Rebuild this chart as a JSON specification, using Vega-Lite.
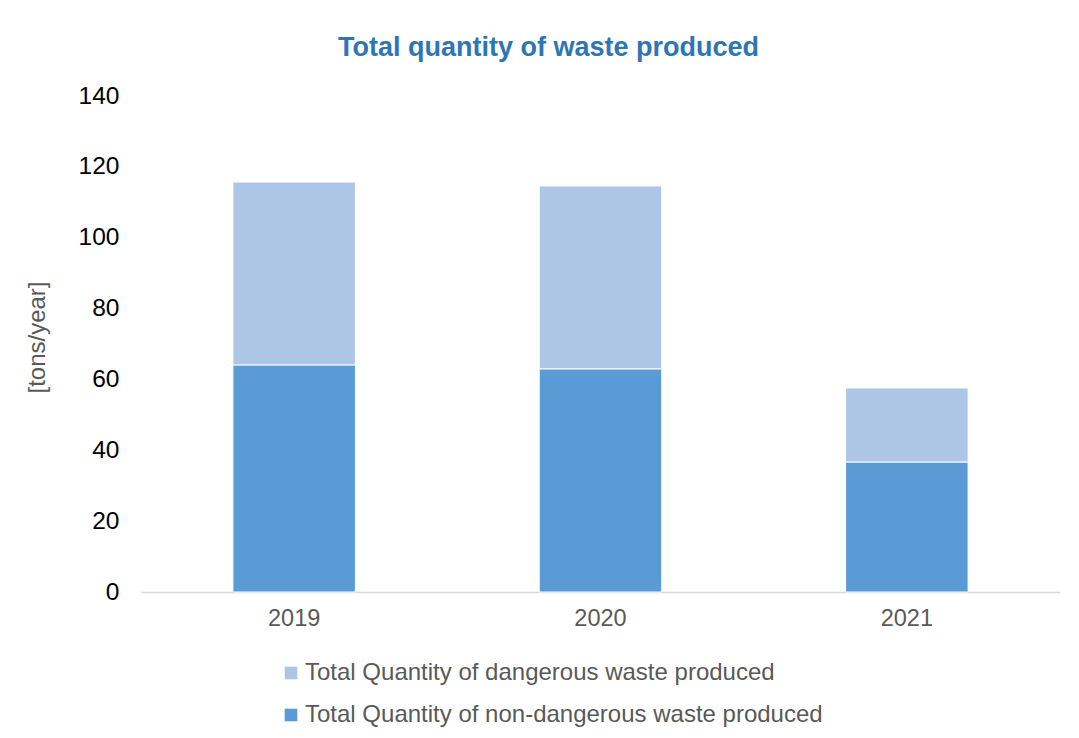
{
  "$schema": "https://vega.github.io/schema/vega-lite/v6.json",
  "autosize": {"type": "none"},
  "width": 919,
  "height": 496,
  "padding": {"left": 141, "top": 96, "right": 19, "bottom": 146},
  "background": "white",
  "title": {
    "text": "Total quantity of waste produced",
    "font": "Liberation Sans",
    "fontSize": 27,
    "fontWeight": "bold",
    "color": "#2E75B6",
    "anchor": "middle",
    "frame": "group",
    "dx": -52,
    "offset": 21
  },
  "data": {
    "values": [
      {"year": "2019", "series": "Total Quantity of non-dangerous waste produced", "value": 64.1},
      {"year": "2019", "series": "Total Quantity of dangerous waste produced", "value": 51.6},
      {"year": "2020", "series": "Total Quantity of non-dangerous waste produced", "value": 63.0},
      {"year": "2020", "series": "Total Quantity of dangerous waste produced", "value": 51.6},
      {"year": "2021", "series": "Total Quantity of non-dangerous waste produced", "value": 36.7},
      {"year": "2021", "series": "Total Quantity of dangerous waste produced", "value": 20.9}
    ]
  },
  "mark": {"type": "bar", "stroke": "white", "strokeWidth": 1},
  "encoding": {
    "x": {
      "field": "year",
      "type": "nominal",
      "scale": {"paddingInner": 0.6, "paddingOuter": 0.3},
      "axis": {
        "title": null,
        "labelAngle": 0,
        "labelFont": "Liberation Sans",
        "labelFontSize": 23.5,
        "labelColor": "#595959",
        "labelPadding": 14,
        "ticks": false,
        "domainColor": "#D9D9D9",
        "domainWidth": 1.5,
        "grid": false
      }
    },
    "y": {
      "field": "value",
      "type": "quantitative",
      "stack": "zero",
      "scale": {"domain": [0, 140], "nice": false},
      "axis": {
        "title": "[tons/year]",
        "titleFont": "Liberation Sans",
        "titleFontSize": 24,
        "titleFontWeight": "normal",
        "titleColor": "#595959",
        "titleAngle": -90,
        "titleX": -104,
        "titleY": 241,
        "titleBaseline": "middle",
        "titleAlign": "center",
        "values": [0, 20, 40, 60, 80, 100, 120, 140],
        "labelFont": "Liberation Sans",
        "labelFontSize": 24.5,
        "labelColor": "#000000",
        "labelPadding": 22,
        "ticks": false,
        "domain": false,
        "grid": false
      }
    },
    "color": {
      "field": "series",
      "type": "nominal",
      "scale": {
        "domain": ["Total Quantity of dangerous waste produced", "Total Quantity of non-dangerous waste produced"],
        "range": ["#ADC6E6", "#5B9BD5"]
      },
      "legend": {
        "title": null,
        "orient": "none",
        "legendX": 138,
        "legendY": 565,
        "direction": "vertical",
        "symbolType": "square",
        "symbolSize": 160,
        "symbolStrokeWidth": 0,
        "labelFont": "Liberation Sans",
        "labelFontSize": 24,
        "labelColor": "#595959",
        "labelOffset": 2,
        "labelLimit": 700,
        "rowPadding": 18
      }
    },
    "order": {"field": "series", "sort": "descending"}
  },
  "config": {"view": {"stroke": null}}
}
